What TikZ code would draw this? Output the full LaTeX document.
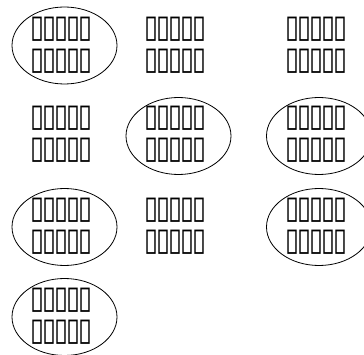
\documentclass[tikz,border=0pt]{standalone}
\usepackage{fontspec}
\newfontfamily\tofu[FakeStretch=0.8,LetterSpace=-6.9]{DejaVu Sans}
\newcommand\tofustyle{\tofu\fontsize{31.8}{32}\selectfont\lineskiplimit=-100pt\relax\lineskip=0pt\relax}
\usetikzlibrary{shapes.geometric}
\begin{document}
\begin{tikzpicture}[x=1pt,y=-1pt,
  lbl/.style={font=\tofustyle, align=center, inner sep=0pt},
  ring/.style={draw, ellipse, line width=0.8pt, minimum width=105pt, minimum height=77pt, inner sep=0pt}]
\useasboundingbox (0,0) rectangle (364,355);
% row 1
\node[ring] (e11) at (64.5,45.5) {};
\node[lbl] (t11) at (61.5,45) {▯▯▯▯▯\\▯▯▯▯▯};
\node[lbl] (t12) at (175.5,45) {▯▯▯▯▯\\▯▯▯▯▯};
\node[lbl] (t13) at (316.5,45) {▯▯▯▯▯\\▯▯▯▯▯};
% row 2
\node[lbl] (t21) at (61.5,134) {▯▯▯▯▯\\▯▯▯▯▯};
\node[ring] (e22) at (178.5,136) {};
\node[lbl] (t22) at (175.5,134) {▯▯▯▯▯\\▯▯▯▯▯};
\node[ring] (e23) at (319,136) {};
\node[lbl] (t23) at (316.5,134) {▯▯▯▯▯\\▯▯▯▯▯};
% row 3
\node[ring] (e31) at (64.5,227) {};
\node[lbl] (t31) at (61.5,226) {▯▯▯▯▯\\▯▯▯▯▯};
\node[lbl] (t32) at (175.5,226) {▯▯▯▯▯\\▯▯▯▯▯};
\node[ring] (e33) at (319,227) {};
\node[lbl] (t33) at (316.5,226) {▯▯▯▯▯\\▯▯▯▯▯};
% row 4
\node[ring] (e41) at (64.5,317) {};
\node[lbl] (t41) at (61.5,316) {▯▯▯▯▯\\▯▯▯▯▯};
\end{tikzpicture}
\end{document}
